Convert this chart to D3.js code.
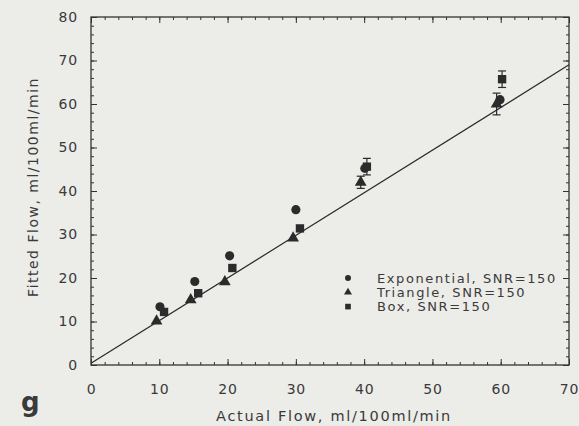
<!DOCTYPE html>
<html>
<head>
<meta charset="utf-8">
<script src="https://cdn.jsdelivr.net/npm/d3@7"></script>
<style>
  body { margin: 0; background: #ecece9; }
  svg { display: block; }
  text { font-family: "DejaVu Sans", sans-serif; fill: #3a3a3a; }
</style>
</head>
<body>
<div id="chart"></div>
<script>
// values
const seriesNames = ["Exponential, SNR=150", "Triangle, SNR=150", "Box, SNR=150"];
const exponentialPts = [
  { x: 10.1, y: 13.4, err: 0 },
  { x: 15.2, y: 19.2, err: 0 },
  { x: 20.3, y: 25.1, err: 0 },
  { x: 30.0, y: 35.7, err: 0 },
  { x: 40.1, y: 45.2, err: 0 },
  { x: 59.9, y: 61.0, err: 0 }
];
const trianglePts = [
  { x: 9.6, y: 10.1, err: 0 },
  { x: 14.6, y: 15.0, err: 0 },
  { x: 19.6, y: 19.1, err: 0 },
  { x: 29.6, y: 29.2, err: 0 },
  { x: 39.5, y: 42.0, err: 1.4 },
  { x: 59.4, y: 60.0, err: 2.5 }
];
const boxPts = [
  { x: 10.7, y: 12.2, err: 0 },
  { x: 15.7, y: 16.5, err: 0 },
  { x: 20.7, y: 22.3, err: 0 },
  { x: 30.6, y: 31.4, err: 0 },
  { x: 40.4, y: 45.6, err: 1.9 },
  { x: 60.2, y: 65.7, err: 1.9 }
];
const fitLine = [{ x: 0, y: 0.4 }, { x: 70, y: 69 }];
const xTicks = [0, 10, 20, 30, 40, 50, 60, 70];
const yTicks = [0, 10, 20, 30, 40, 50, 60, 70, 80];

const config = {
  width: 579,
  height: 426,
  margin: { top: 17, right: 10, bottom: 61, left: 91 }
};
const plotW = config.width - config.margin.left - config.margin.right;
const plotH = config.height - config.margin.top - config.margin.bottom;

const svg = d3.select("#chart").append("svg")
  .attr("width", config.width)
  .attr("height", config.height);

const g = svg.append("g")
  .attr("transform", "translate(" + config.margin.left + "," + config.margin.top + ")");

const xScale = d3.scaleLinear().domain([0, 70]).range([0, plotW]);
const yScale = d3.scaleLinear().domain([0, 80]).range([plotH, 0]);

const ink = "#333";

// frame
g.append("rect")
  .attr("width", plotW).attr("height", plotH)
  .attr("fill", "none").attr("stroke", ink).attr("stroke-width", 1.3);

// inward ticks on all four sides
const xMinor = d3.range(0, 71, 2);
const yMinor = d3.range(0, 81, 2);
function drawAxis(axisFn, scale, values, size, transform) {
  g.append("g")
    .attr("transform", transform)
    .call(axisFn(scale).tickValues(values).tickSize(size).tickFormat(""))
    .call(s => s.select(".domain").remove())
    .selectAll("line").attr("stroke", ink);
}
drawAxis(d3.axisTop, xScale, xMinor, 3, "translate(0," + plotH + ")");
drawAxis(d3.axisTop, xScale, xTicks, 6, "translate(0," + plotH + ")");
drawAxis(d3.axisBottom, xScale, xMinor, 3, "translate(0,0)");
drawAxis(d3.axisBottom, xScale, xTicks, 6, "translate(0,0)");
drawAxis(d3.axisRight, yScale, yMinor, 3, "translate(0,0)");
drawAxis(d3.axisRight, yScale, yTicks, 6, "translate(0,0)");
drawAxis(d3.axisLeft, yScale, yMinor, 3, "translate(" + plotW + ",0)");
drawAxis(d3.axisLeft, yScale, yTicks, 6, "translate(" + plotW + ",0)");

// tick labels
g.append("g")
  .attr("transform", "translate(0," + plotH + ")")
  .call(d3.axisBottom(xScale).tickValues(xTicks).tickSize(0).tickPadding(19))
  .call(s => s.select(".domain").remove())
  .selectAll("text")
  .style("font-size", "14px").style("letter-spacing", "0.8px").attr("fill", "#3a3a3a");

g.append("g")
  .call(d3.axisLeft(yScale).tickValues(yTicks).tickSize(0).tickPadding(13))
  .call(s => s.select(".domain").remove())
  .selectAll("text")
  .style("font-size", "14px").style("letter-spacing", "0.8px").attr("fill", "#3a3a3a");

// fitted line
const line = d3.line().x(d => xScale(d.x)).y(d => yScale(d.y));
g.append("path")
  .datum(fitLine)
  .attr("d", line)
  .attr("fill", "none").attr("stroke", "#2a2a2a").attr("stroke-width", 1.2);

// error bars
function errorBars(pts) {
  const e = pts.filter(d => d.err > 0);
  const eg = g.append("g").attr("stroke", "#2a2a2a").attr("stroke-width", 1.2);
  eg.selectAll(".v").data(e).join("line")
    .attr("x1", d => xScale(d.x)).attr("x2", d => xScale(d.x))
    .attr("y1", d => yScale(d.y + d.err)).attr("y2", d => yScale(d.y - d.err));
  eg.selectAll(".t").data(e).join("line")
    .attr("x1", d => xScale(d.x) - 4).attr("x2", d => xScale(d.x) + 4)
    .attr("y1", d => yScale(d.y + d.err)).attr("y2", d => yScale(d.y + d.err));
  eg.selectAll(".b").data(e).join("line")
    .attr("x1", d => xScale(d.x) - 4).attr("x2", d => xScale(d.x) + 4)
    .attr("y1", d => yScale(d.y - d.err)).attr("y2", d => yScale(d.y - d.err));
}
errorBars(trianglePts);
errorBars(boxPts);

const markColor = "#2b2b2b";
const symbols = [
  d3.symbol().type(d3.symbolCircle).size(66),
  d3.symbol().type(d3.symbolTriangle).size(60),
  d3.symbol().type(d3.symbolSquare).size(70)
];
[trianglePts, boxPts, exponentialPts].forEach((pts, k) => {
  const sym = [symbols[1], symbols[2], symbols[0]][k];
  g.selectAll(null).data(pts).join("path")
    .attr("d", sym)
    .attr("transform", d => "translate(" + xScale(d.x) + "," + yScale(d.y) + ")")
    .attr("fill", markColor);
});

// legend
const legend = g.append("g").attr("transform", "translate(" + (348 - config.margin.left) + "," + (278 - config.margin.top) + ")");
const legendSymbols = [
  d3.symbol().type(d3.symbolCircle).size(28),
  d3.symbol().type(d3.symbolTriangle).size(28),
  d3.symbol().type(d3.symbolSquare).size(32)
];
seriesNames.forEach((name, i) => {
  const row = legend.append("g").attr("transform", "translate(0," + (i * 14.3) + ")");
  row.append("path").attr("d", legendSymbols[i]).attr("fill", markColor);
  row.append("text")
    .attr("x", 29).attr("y", 4.5)
    .style("font-size", "13px").style("letter-spacing", "1.6px")
    .text(name);
});

// axis titles
svg.append("text")
  .attr("text-anchor", "middle")
  .attr("transform", "translate(" + 38 + "," + 187 + ")rotate(-90)")
  .style("font-size", "14px").style("letter-spacing", "1.5px")
  .text("Fitted Flow,  ml/100ml/min");

svg.append("text")
  .attr("text-anchor", "middle")
  .attr("x", 334).attr("y", 421)
  .style("font-size", "14.5px").style("letter-spacing", "1.7px")
  .text("Actual Flow,  ml/100ml/min");

// panel letter
svg.append("text")
  .attr("x", 21).attr("y", 411)
  .style("font-size", "26px").style("font-weight", "bold")
  .text("g");
</script>
</body>
</html>
